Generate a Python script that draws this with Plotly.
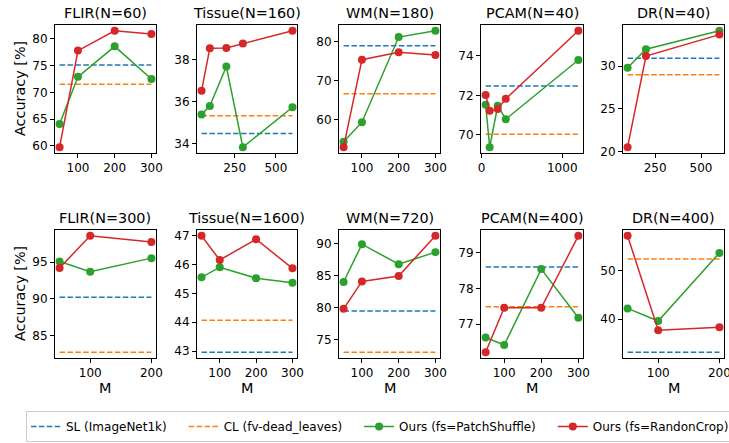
import plotly.graph_objects as go

# ---------------- data ----------------
panel_titles = ["FLIR(N=60)", "Tissue(N=160)", "WM(N=180)", "PCAM(N=40)", "DR(N=40)",
                "FLIR(N=300)", "Tissue(N=1600)", "WM(N=720)", "PCAM(N=400)", "DR(N=400)"]

m_values = [
    [50, 100, 200, 300],
    [50, 100, 200, 300, 600],
    [50, 100, 200, 300],
    [50, 100, 200, 300, 1200],
    [100, 200, 600],
    [50, 100, 200],
    [50, 100, 200, 300],
    [50, 100, 200, 300],
    [50, 100, 200, 300],
    [50, 100, 200],
]

sl_imagenet = [75.1, 34.48, 79.0, 72.47, 30.9, 90.2, 42.96, 79.45, 78.6, 33.1]
cl_dead_leaves = [71.5, 35.32, 66.7, 70.03, 28.98, 82.7, 44.07, 73.0, 77.49, 52.5]

ours_patchshuffle = [
    [64.1, 72.9, 78.6, 72.5],
    [35.39, 35.79, 37.68, 33.82, 35.73],
    [54.4, 59.4, 81.2, 82.8],
    [71.52, 69.37, 71.47, 70.79, 73.79],
    [29.8, 31.95, 34.1],
    [95.08, 93.7, 95.55],
    [45.56, 45.91, 45.53, 45.37],
    [84.02, 89.95, 86.8, 88.7],
    [76.63, 76.42, 78.54, 77.18],
    [42.2, 39.58, 53.75],
]

ours_randoncrop = [
    [59.76, 77.8, 81.5, 80.9],
    [36.52, 38.56, 38.57, 38.78, 39.39],
    [53.0, 75.4, 77.3, 76.6],
    [72.02, 71.22, 71.3, 71.82, 75.27],
    [20.55, 31.17, 33.66],
    [94.2, 98.6, 97.75],
    [47.0, 46.16, 46.88, 45.87],
    [79.8, 84.1, 84.96, 91.26],
    [76.22, 77.46, 77.46, 79.47],
    [57.3, 37.65, 38.27],
]

x_tickvals = [[100, 200, 300], [250, 500], [100, 200, 300], [0, 1000], [250, 500],
              [100, 200], [100, 200, 300], [100, 200, 300], [100, 200, 300], [100, 200]]
y_tickvals = [[60, 65, 70, 75, 80], [34, 36, 38], [60, 70, 80], [70, 72, 74], [20, 25, 30],
              [85, 90, 95], [43, 44, 45, 46, 47], [75, 80, 85, 90], [77, 78, 79], [40, 50]]

legend_names = ["SL (ImageNet1k)", "CL (fv-dead_leaves)", "Ours (fs=PatchShuffle)", "Ours (fs=RandonCrop)"]
colors = ["#1f77b4", "#ff7f0e", "#2ca02c", "#d62728"]

# ---------------- layout geometry (pixels) ----------------
W, H = 729, 443
col_px = [(55, 156), (197, 297), (339, 440), (481, 583), (623, 724)]
row_px = [(25, 153), (230, 358)]
FONT = "DejaVu Sans"
PAD = "\u2002\u2002"  # spacing after legend entries

fig = go.Figure()


def margin_range(vals, frac=0.05):
    lo, hi = min(vals), max(vals)
    d = (hi - lo) * frac
    return [lo - d, hi + d]


annotations = []
for i in range(10):
    r, c = divmod(i, 5)
    ax = i + 1
    xa = "x" if ax == 1 else f"x{ax}"
    ya = "y" if ax == 1 else f"y{ax}"
    xs = m_values[i]
    first = (i == 0)
    dash = "5.5px,2.4px"
    fig.add_trace(go.Scatter(x=xs, y=[sl_imagenet[i]] * len(xs), mode="lines",
                             line=dict(color=colors[0], width=1.5, dash=dash),
                             name=legend_names[0] + PAD, legendgroup="sl", showlegend=first,
                             xaxis=xa, yaxis=ya))
    fig.add_trace(go.Scatter(x=xs, y=[cl_dead_leaves[i]] * len(xs), mode="lines",
                             line=dict(color=colors[1], width=1.5, dash=dash),
                             name=legend_names[1] + PAD, legendgroup="cl", showlegend=first,
                             xaxis=xa, yaxis=ya))
    fig.add_trace(go.Scatter(x=xs, y=ours_patchshuffle[i], mode="lines+markers",
                             line=dict(color=colors[2], width=1.5),
                             marker=dict(color=colors[2], size=8),
                             name=legend_names[2] + PAD, legendgroup="ps", showlegend=first,
                             xaxis=xa, yaxis=ya))
    fig.add_trace(go.Scatter(x=xs, y=ours_randoncrop[i], mode="lines+markers",
                             line=dict(color=colors[3], width=1.5),
                             marker=dict(color=colors[3], size=8),
                             name=legend_names[3], legendgroup="rc", showlegend=first,
                             xaxis=xa, yaxis=ya))

    allv = ours_patchshuffle[i] + ours_randoncrop[i] + [sl_imagenet[i], cl_dead_leaves[i]]
    x0, x1 = col_px[c]
    y0, y1 = row_px[r]
    axis_common = dict(showline=True, mirror=True, linecolor="black", linewidth=1,
                       ticks="outside", ticklen=4, tickwidth=1, tickcolor="black",
                       showgrid=False, zeroline=False, ticklabeloverflow="allow",
                       tickfont=dict(family=FONT, size=12, color="black"))
    fig.update_layout(**{
        ("xaxis" if ax == 1 else f"xaxis{ax}"): dict(
            domain=[x0 / W, x1 / W], range=margin_range(xs), anchor=ya,
            tickvals=x_tickvals[i], **axis_common),
        ("yaxis" if ax == 1 else f"yaxis{ax}"): dict(
            domain=[1 - y1 / H, 1 - y0 / H], range=margin_range(allv), anchor=xa,
            tickvals=y_tickvals[i], **axis_common),
    })
    annotations.append(dict(text=panel_titles[i], x=(x0 + x1) / 2 / W, y=1 - (y0 - 12) / H,
                            xref="paper", yref="paper", xanchor="center", yanchor="middle",
                            showarrow=False, font=dict(family=FONT, size=14.4, color="black")))
    if r == 1:
        annotations.append(dict(text="M", x=(x0 + x1) / 2 / W, y=1 - 388 / H,
                                xref="paper", yref="paper", xanchor="center", yanchor="middle",
                                showarrow=False, font=dict(family=FONT, size=14.4, color="black")))
    if c == 0:
        annotations.append(dict(text="Accuracy [%]", x=20 / W, y=1 - (y0 + y1) / 2 / H,
                                xref="paper", yref="paper", xanchor="center", yanchor="middle",
                                textangle=-90, showarrow=False,
                                font=dict(family=FONT, size=14.4, color="black")))

fig.update_layout(
    width=W, height=H, margin=dict(l=0, r=0, t=0, b=0, autoexpand=False),
    paper_bgcolor="white", plot_bgcolor="white",
    font=dict(family=FONT, size=12, color="black"),
    annotations=annotations,
    showlegend=True,
    legend=dict(orientation="h", x=26 / W, y=1 / H, xanchor="left", yanchor="bottom",
                bordercolor="#cccccc", borderwidth=1, bgcolor="white",
                font=dict(family=FONT, size=12, color="black")),
)

fig.write_html("out.html", config={"displayModeBar": False},
               post_script="document.body.style.margin='0';document.body.style.overflow='hidden';")
